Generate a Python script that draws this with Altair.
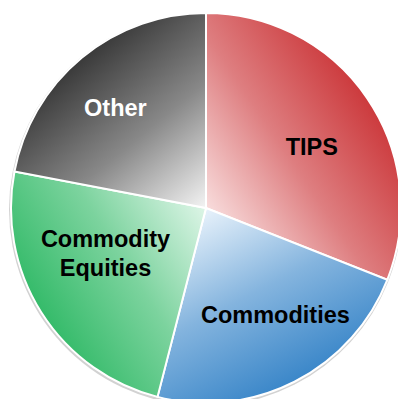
import math
import altair as alt
import pandas as pd

# ---- data ----
categories = ["TIPS", "Commodities", "Commodity Equities", "Other"]
values = [31, 23, 24, 22]

# ---- palette (inner light / outer dark per slice) ----
light_colors = ["#f8dcdc", "#e8f2fb", "#ddf5e7", "#f4f4f4"]
dark_colors = ["#cc3a3d", "#3b87c9", "#35bb6a", "#3a3a3a"]

# ---- label styling / nudges (layout only) ----
label_style = {
    "TIPS": dict(r=117, dx=9, dy=13, color="black"),
    "Commodities": dict(r=133, dx=9, dy=-4, color="black"),
    "Commodity Equities": dict(r=106, dx=-11, dy=-18, color="black"),
    "Other": dict(r=128, dx=-9, dy=7, color="white"),
}

total = sum(values)
df = pd.DataFrame({"category": categories, "value": values,
                   "order": list(range(len(categories)))})

W, H = 390, 391
CX, CY, R = 198, 200, 195

base = alt.Chart(df).transform_window(
    end="sum(value)", sort=[alt.SortField("order")], frame=[None, 0]
).transform_calculate(
    start="datum.end - datum.value",
    mid="datum.end - datum.value / 2",
)

theta_scale = alt.Scale(domain=[0, total], range=[0, 2 * math.pi])


def mix(c1, c2, t):
    a = [int(c1[k:k + 2], 16) for k in (1, 3, 5)]
    b = [int(c2[k:k + 2], 16) for k in (1, 3, 5)]
    return "#" + "".join("%02x" % round(a[j] + (b[j] - a[j]) * t) for j in range(3))


def slice_gradient(i):
    """Linear gradient from pie centre to the middle of the outer arc,
    expressed in the slice's bounding-box units (corrected for aspect)."""
    a0 = 2 * math.pi * sum(values[:i]) / total
    a1 = 2 * math.pi * sum(values[: i + 1]) / total
    pts = [(0.0, 0.0), (math.sin(a0), -math.cos(a0)), (math.sin(a1), -math.cos(a1))]
    for k in range(5):
        a = k * math.pi / 2
        if a0 < a < a1:
            pts.append((math.sin(a), -math.cos(a)))
    xs = [p[0] for p in pts]
    ys = [p[1] for p in pts]
    minx, maxx, miny, maxy = min(xs), max(xs), min(ys), max(ys)
    w, h = maxx - minx, maxy - miny
    m = (a0 + a1) / 2
    dx, dy = math.sin(m), -math.cos(m)
    qx0, qy0 = (0 - minx) / w, (0 - miny) / h
    ux, uy = w * dx, h * dy
    n2 = ux * ux + uy * uy
    qx1, qy1 = qx0 + ux / n2, qy0 + uy / n2

    return alt.LinearGradient(
        gradient="linear",
        stops=[
            alt.GradientStop(color=light_colors[i], offset=0),
            alt.GradientStop(color=mix(light_colors[i], dark_colors[i], 0.58), offset=0.5),
            alt.GradientStop(color=dark_colors[i], offset=1),
        ],
        x1=qx0, y1=qy0, x2=qx1, y2=qy1,
    )


theta_enc = alt.Theta("start:Q", scale=theta_scale, stack=None)

shadow = base.mark_arc(fill="#d2d2d2").encode(
    theta=theta_enc,
    theta2="end:Q",
    x=alt.value(CX - 0.5),
    y=alt.value(CY + 1.5),
    radius=alt.value(R + 1.5),
)

slices = []
for i, cat in enumerate(categories):
    slices.append(
        base.transform_filter(alt.datum.category == cat)
        .mark_arc(fill=slice_gradient(i), stroke="white", strokeWidth=2)
        .encode(
            theta=theta_enc,
            theta2="end:Q",
            x=alt.value(CX),
            y=alt.value(CY),
            radius=alt.value(R),
        )
    )

labels = []
for cat in categories:
    st = label_style[cat]
    labels.append(
        base.transform_filter(alt.datum.category == cat)
        .mark_text(
            font="Liberation Sans", fontSize=23.5, fontWeight="bold",
            lineBreak=" ", lineHeight=29, align="center", baseline="alphabetic",
            dx=st["dx"], dy=st["dy"], color=st["color"],
        )
        .encode(
            theta=alt.Theta("mid:Q", scale=theta_scale, stack=None),
            radius=alt.value(st["r"]),
            x=alt.value(CX),
            y=alt.value(CY),
            text="category:N",
        )
    )

chart = alt.layer(shadow, *slices, *labels).properties(
    width=W, height=H,
    autosize=alt.AutoSizeParams(type="none"),
    padding=0,
).configure_view(stroke=None)

chart.save("out.html", embed_options={"renderer": "svg", "actions": False})
